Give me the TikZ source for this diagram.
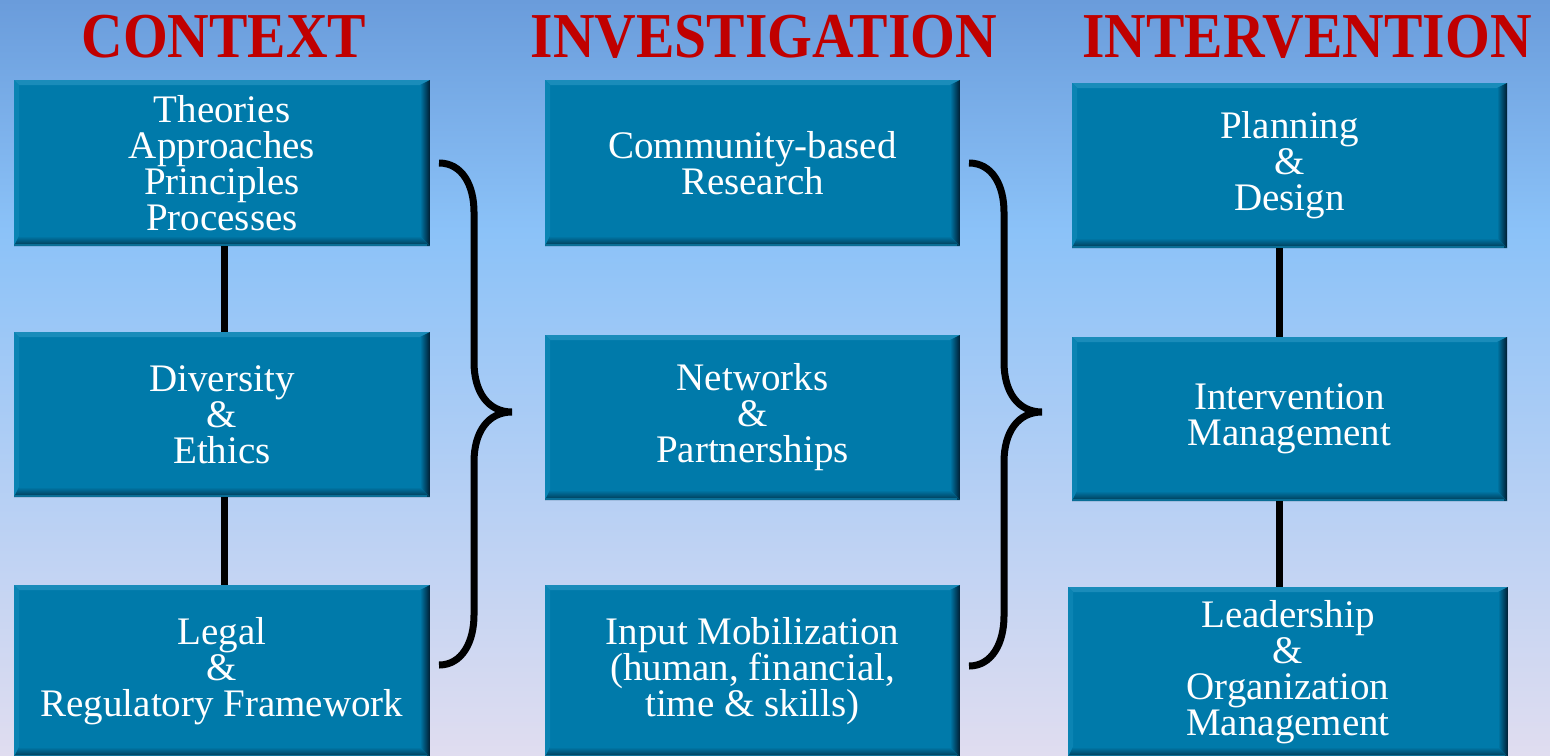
\documentclass[tikz,border=0pt]{standalone}
\usepackage{fontspec}
\setmainfont{Liberation Serif}
\usetikzlibrary{calc}
\definecolor{boxc}{HTML}{007AAA}
\definecolor{boxlt}{HTML}{1A8CBA}
\definecolor{boxlf}{HTML}{0B84B3}
\definecolor{boxdk}{HTML}{001C30}
\definecolor{boxbt}{HTML}{00354F}
\definecolor{boxbl}{HTML}{0A6E96}
\definecolor{titlec}{HTML}{C00000}
\definecolor{bgtop}{HTML}{6A9CDB}
\definecolor{bgmid}{HTML}{8BC2F8}
\definecolor{bgbot}{HTML}{E0DDF0}
\tikzset{
  x=1pt, y=-1pt,
  bevel/.style={path picture={
    \path (path picture bounding box.north west) coordinate (pNW)
          (path picture bounding box.south east) coordinate (pSE)
          (pNW -| pSE) coordinate (pNE)
          (pNW |- pSE) coordinate (pSW);
    \fill[boxlt] (pNW) -- (pNE) -- ($(pNE)+(-10pt,-5pt)$) -- ($(pNW)+(5pt,-5pt)$) -- cycle;
    \fill[boxlf] (pNW) -- ($(pNW)+(5pt,-5pt)$) -- ($(pSW)+(5pt,10pt)$) -- (pSW) -- cycle;
    \shade[left color=boxc, right color=boxdk] (pNE) -- (pSE) -- ($(pSE)+(-10pt,10pt)$) -- ($(pNE)+(-10pt,-5pt)$) -- cycle;
    \shade[top color=boxc, bottom color=boxbt] (pSW) -- (pSE) -- ($(pSE)+(-10pt,10pt)$) -- ($(pSW)+(5pt,10pt)$) -- cycle;
    \fill[boxbl] (pSW) rectangle ($(pSE)+(-3pt,2pt)$);
  }},
  card/.style={fill=boxc, inner sep=0pt, align=center, text=white,
    font=\fontsize{39}{36}\selectfont, bevel},
  ttl/.style={anchor=base, text=titlec, font=\bfseries\fontsize{64}{64}\selectfont},
  conn/.style={line width=7pt, black},
  brace/.style={line width=7pt, black, line cap=butt},
}
\begin{document}
\begin{tikzpicture}
\useasboundingbox (0,0) rectangle (1550,755);
\shade[top color=bgtop, bottom color=bgmid] (0,0) rectangle (1550,230);
\shade[top color=bgmid, bottom color=bgbot] (0,229) rectangle (1550,755);

% titles
\node[ttl] (t1) at (224,57) {\scalebox{0.9}[1]{CONTEXT}};
\node[ttl] (t2) at (764,57) {\scalebox{0.9}[1]{INVESTIGATION}};
\node[ttl] (t3) at (1307,57) {\scalebox{0.9}[1]{INTERVENTION}};

% column 1
\node[card, minimum width=416pt, minimum height=166pt] (a1) at (222,163)
  {Theories\\Approaches\\Principles\\Processes};
\node[card, minimum width=416pt, minimum height=165pt] (a2) at (222,414.5)
  {Diversity\\\&\\Ethics};
\node[card, minimum width=416pt, minimum height=172pt] (a3) at (222,671)
  {Legal\\\&\\Regulatory Framework};

% column 2
\node[card, minimum width=415pt, minimum height=166pt] (b1) at (752.5,163)
  {Community-based\\Research};
\node[card, minimum width=415pt, minimum height=165pt] (b2) at (752.5,417.5)
  {Networks\\\&\\Partnerships};
\node[card, minimum width=415pt, minimum height=172pt] (b3) at (752.5,671)
  {Input Mobilization\\(human, financial,\\time \& skills)};

% column 3
\node[card, minimum width=435pt, minimum height=165pt] (c1) at (1289.5,165.5)
  {Planning\\\&\\Design};
\node[card, minimum width=435pt, minimum height=164pt] (c2) at (1289.5,419)
  {Intervention\\Management};
\node[card, minimum width=440pt, minimum height=170pt] (c3) at (1288,672)
  {Leadership\\\&\\Organization\\Management};

% vertical connectors
\draw[conn] ([xshift=2pt]a1.south) -- ([xshift=2pt]a2.north);
\draw[conn] ([xshift=2pt]a2.south) -- ([xshift=2pt]a3.north);
\draw[conn] ([xshift=-10.5pt]c1.south) -- ([xshift=-10.5pt]c2.north);
\draw[conn] ([xshift=-10.5pt]c2.south) -- ([xshift=-10.5pt]c2.south |- c3.north);

% braces
\coordinate (br1t) at (439,163);
\coordinate (br1m) at (512,412);
\coordinate (br1b) at (439,665);
\draw[brace] (br1t) .. controls (462,163) and (474,185) .. (474,212) -- (474,362)
  .. controls (474,392) and (488,412) .. (br1m)
  .. controls (488,412) and (474,432) .. (474,462) -- (474,615)
  .. controls (474,642) and (462,665) .. (br1b);
\coordinate (br2t) at (969,163);
\coordinate (br2m) at (1042,412);
\coordinate (br2b) at (969,666);
\draw[brace] (br2t) .. controls (992,163) and (1004,185) .. (1004,212) -- (1004,362)
  .. controls (1004,392) and (1018,412) .. (br2m)
  .. controls (1018,412) and (1004,432) .. (1004,462) -- (1004,616)
  .. controls (1004,643) and (992,666) .. (br2b);
\end{tikzpicture}
\end{document}
